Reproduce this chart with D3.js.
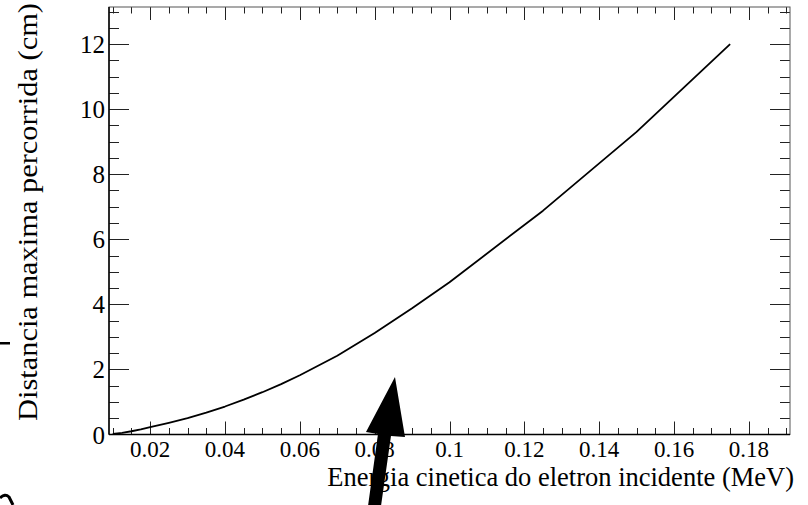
<!DOCTYPE html>
<html lang="en">
<head>
  <meta charset="UTF-8">
  <title>Distancia maxima percorrida</title>
  <script src="https://d3js.org/d3.v7.min.js"></script>
  <style>
    body { margin: 0; background: #fff; }
    svg { display: block; font-family: "Liberation Serif", "Times New Roman", serif; }
    .xtick-label { font-size: 23px; fill: #000; }
    .ytick-label { font-size: 25px; fill: #000; }
    .axis-title { font-size: 26.5px; fill: #000; }
  </style>
</head>
<body>
  <svg width="808" height="505"></svg>

  <script>
    // kinetic energy (MeV) and max range (cm)
    const energy = [0.01, 0.0125, 0.015, 0.0175, 0.02, 0.025, 0.03, 0.035, 0.04, 0.045,
                    0.05, 0.055, 0.06, 0.07, 0.08, 0.09, 0.1, 0.125, 0.15, 0.175];
    const range  = [0.02, 0.05, 0.1, 0.16, 0.23, 0.36, 0.5, 0.67, 0.86, 1.07,
                    1.3, 1.55, 1.82, 2.42, 3.12, 3.88, 4.68, 6.88, 9.3, 12.0];

    const xMajor = [0.02, 0.04, 0.06, 0.08, 0.1, 0.12, 0.14, 0.16, 0.18];
    const yMajor = [0, 2, 4, 6, 8, 10, 12];

    // big black arrow drawn over the plot (data coords)
    const arrow = [[0.08543, 1.77], [0.08811, -0.077], [0.08436, -0.046], [0.08169, -2.2],
                   [0.07822, -2.2], [0.08089, 0.015], [0.07768, 0.077]];

    const frame = { left: 109, right: 790, top: 7, bottom: 434.5 };

    const svg = d3.select("svg");

    const x = d3.scaleLinear().domain([0.009, 0.191]).range([frame.left, frame.right]);
    const y = d3.scaleLinear().domain([0, 13.14]).range([frame.bottom, frame.top]);

    const xMinor = d3.range(0.01, 0.1905, 0.005).map(v => +v.toFixed(3));
    const yMinor = d3.range(0.5, 13.1, 0.5);

    const g = svg.append("g");

    // minor + major ticks on all four sides (ROOT style)
    const tickCol = "#222";
    xMinor.forEach(v => {
      const major = xMajor.some(m => Math.abs(m - v) < 1e-9);
      const len = major ? 13 : 6.5;
      const px = Math.round(x(v)) + 0.5;
      g.append("line").attr("x1", px).attr("x2", px)
        .attr("y1", frame.bottom).attr("y2", frame.bottom - len)
        .attr("stroke", tickCol).attr("stroke-width", 1);
      g.append("line").attr("x1", px).attr("x2", px)
        .attr("y1", frame.top).attr("y2", frame.top + len)
        .attr("stroke", tickCol).attr("stroke-width", 1);
    });
    yMinor.forEach(v => {
      const major = v % 2 === 0;
      const len = major ? 20 : 10;
      const py = Math.round(y(v)) + 0.5;
      g.append("line").attr("x1", frame.left).attr("x2", frame.left + len)
        .attr("y1", py).attr("y2", py)
        .attr("stroke", tickCol).attr("stroke-width", 1);
      g.append("line").attr("x1", frame.right).attr("x2", frame.right - len)
        .attr("y1", py).attr("y2", py)
        .attr("stroke", tickCol).attr("stroke-width", 1);
    });

    // frame
    g.append("rect")
      .attr("x", frame.left).attr("y", frame.top)
      .attr("width", frame.right - frame.left).attr("height", frame.bottom - frame.top)
      .attr("fill", "none").attr("stroke", "#555").attr("stroke-width", 1);
    g.append("line").attr("x1", frame.left).attr("x2", frame.right)
      .attr("y1", frame.bottom).attr("y2", frame.bottom)
      .attr("stroke", "#000").attr("stroke-width", 1.5);
    g.append("line").attr("x1", frame.left).attr("x2", frame.left)
      .attr("y1", frame.top).attr("y2", frame.bottom)
      .attr("stroke", "#000").attr("stroke-width", 1.5);

    // tick labels
    g.selectAll(".xl").data(xMajor).enter().append("text")
      .attr("class", "xtick-label")
      .attr("x", d => x(d)).attr("y", 457)
      .attr("text-anchor", "middle")
      .text(d => d3.format("~g")(d));

    g.selectAll(".yl").data(yMajor).enter().append("text")
      .attr("class", "ytick-label")
      .attr("x", 105).attr("y", d => y(d) + 9)
      .attr("text-anchor", "end")
      .text(d => d);

    // axis titles
    g.append("text").attr("class", "axis-title")
      .attr("x", 794).attr("y", 486)
      .attr("text-anchor", "end")
      .text("Energia cinetica do eletron incidente (MeV)");

    g.append("text").attr("class", "axis-title")
      .attr("transform", "rotate(-90)")
      .attr("x", -421).attr("y", 37)
      .attr("textLength", 418)
      .attr("lengthAdjust", "spacingAndGlyphs")
      .text("Distancia maxima percorrida (cm)");

    // the curve
    const pts = energy.map((e, i) => [e, range[i]]);
    g.append("path")
      .datum(pts)
      .attr("fill", "none")
      .attr("stroke", "#000")
      .attr("stroke-width", 1.8)
      .attr("stroke-linejoin", "round")
      .attr("d", d3.line().x(d => x(d[0])).y(d => y(d[1])));

    // arrow annotation
    g.append("path")
      .datum(arrow)
      .attr("fill", "#000")
      .attr("d", d3.line().x(d => x(d[0])).y(d => y(d[1])).curve(d3.curveLinearClosed));

    // stray marks on the left edge
    g.append("rect").attr("x", 0).attr("y", 342).attr("width", 10).attr("height", 2.5).attr("fill", "#000");
    g.append("path")
      .attr("d", "M0,498 Q5,493 9,497 L13,505")
      .attr("fill", "none").attr("stroke", "#000").attr("stroke-width", 3);
  </script>
</body>
</html>
